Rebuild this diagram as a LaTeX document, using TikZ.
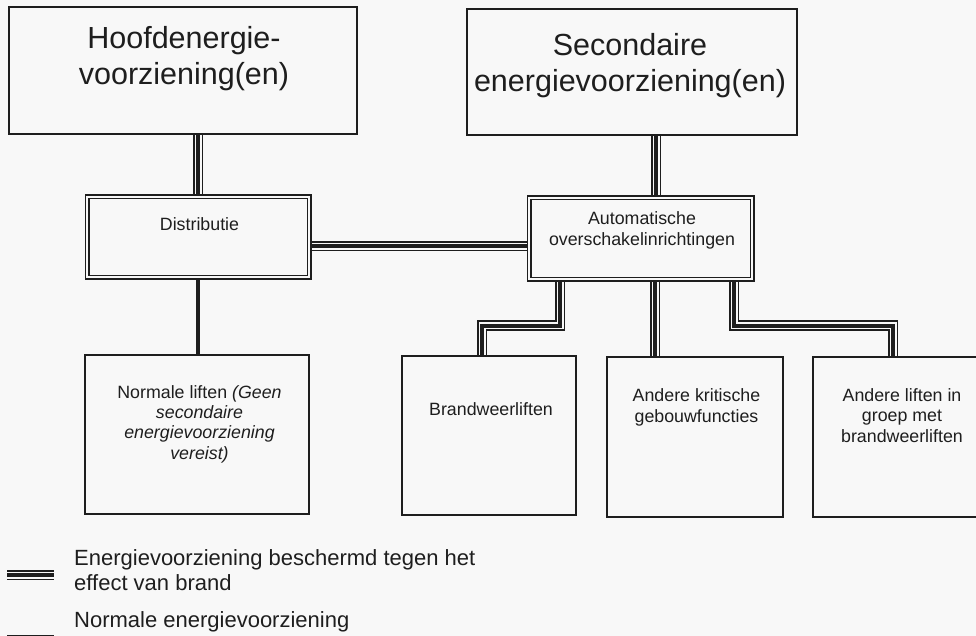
\documentclass[tikz,border=0pt]{standalone}
\usepackage{fontspec}
\setmainfont{Liberation Sans}
\usetikzlibrary{positioning, backgrounds}
\definecolor{ink}{RGB}{30,30,30}
\definecolor{paper}{RGB}{248,248,248}

\begin{document}
\begin{tikzpicture}[x=1pt, y=-1pt,
    box/.style={draw=ink, line width=1.3pt, fill=paper, inner sep=0pt},
    dbox/.style={box, double=paper, double distance=2.6pt, line width=1.2pt},
    big/.style={font=\fontsize{30.5}{36}\selectfont, align=center, anchor=base, text=ink, inner sep=0pt},
    small/.style={font=\fontsize{17.8}{20.3}\selectfont, align=center, anchor=base, text=ink, inner sep=0pt},
    legend/.style={font=\fontsize{22}{25}\selectfont, align=left, anchor=base west, text=ink, inner sep=0pt},
    fire/.style={draw=ink, line width=4pt, preaction={draw=ink, double=paper, double distance=7pt, line width=1.8pt}},
    plain/.style={draw=ink, line width=4.5pt}]
    \useasboundingbox (0,0) rectangle (976,636);
    \clip (0,0) rectangle (976,636);
    % Boxes
    \node[box, minimum width=348pt, minimum height=127pt] (hoofd) at (183,70.5) {};
    \node[box, minimum width=330pt, minimum height=126pt] (sec) at (632,72) {};
    \node[dbox, minimum width=222pt, minimum height=80pt] (distr) at (198,237) {};
    \node[dbox, minimum width=223pt, minimum height=81pt] (auto) at (640.5,238.5) {};
    \node[box, minimum width=224pt, minimum height=159pt] (normaal) at (197,434.5) {};
    \node[box, minimum width=174pt, minimum height=159pt] (brand) at (489,435.5) {};
    \node[box, minimum width=176pt, minimum height=160pt] (krit) at (695,437) {};
    \node[box, minimum width=178pt, minimum height=160pt] (andere) at (902,437) {};
    % Texts (base = last line)
    \node[big] (hoofdtxt) at (184,85) {Hoofdenergie-\\voorziening(en)};
    \node[big] (sectxt) at (630,92) {Secondaire\\energievoorziening(en)};
    \node[small] (distrtxt) at (199.5,231) {Distributie};
    \node[small] (autotxt) at (642,245) {Automatische\\overschakelinrichtingen};
    \node[small] (normaaltxt) at (199.5,459) {Normale liften \textit{(Geen}\\\textit{secondaire}\\\textit{energievoorziening}\\\textit{vereist)}};
    \node[small] (brandtxt) at (491,415) {Brandweerliften};
    \node[small] (krittxt) at (696.5,422) {Andere kritische\\gebouwfuncties};
    \node[small] (anderetxt) at (902,442) {Andere liften in\\groep met\\brandweerliften};
    % Legend
    \coordinate (firea) at (7,575);
    \coordinate (fireb) at (54,575);
    \coordinate (plaina) at (7,637);
    \coordinate (plainb) at (54,637);
    \node[legend] (firetxt) at (74,590) {Energievoorziening beschermd tegen het\\effect van brand};
    \node[legend] (plaintxt) at (74,627) {Normale energievoorziening};
    % Connectors
    \begin{scope}[on background layer]
        \fill[paper] (0,0) rectangle (976,636);
        \draw[fire] ([xshift=15pt]hoofd.south) -- ([xshift=15pt]hoofd.south |- distr.north);
        \draw[fire] ([xshift=24pt]sec.south) -- ([xshift=24pt]sec.south |- auto.north);
        \draw[fire] ([yshift=-9pt]distr.east) -- ([yshift=-9pt]distr.east -| auto.west);
        \draw[plain] (distr.south) -- (distr.south |- normaal.north);
        \draw[fire] ([xshift=-80.5pt]auto.south) -- ++(0,46) -| ([xshift=-7pt]brand.north);
        \draw[fire] ([xshift=14.5pt]auto.south) -- ([xshift=14.5pt]auto.south |- krit.north);
        \draw[fire] ([xshift=93.5pt]auto.south) -- ++(0,46) -| ([xshift=-9pt]andere.north);
        \draw[fire] (firea) -- (fireb);
        \draw[plain] (plaina) -- (plainb);
    \end{scope}
\end{tikzpicture}
\end{document}
